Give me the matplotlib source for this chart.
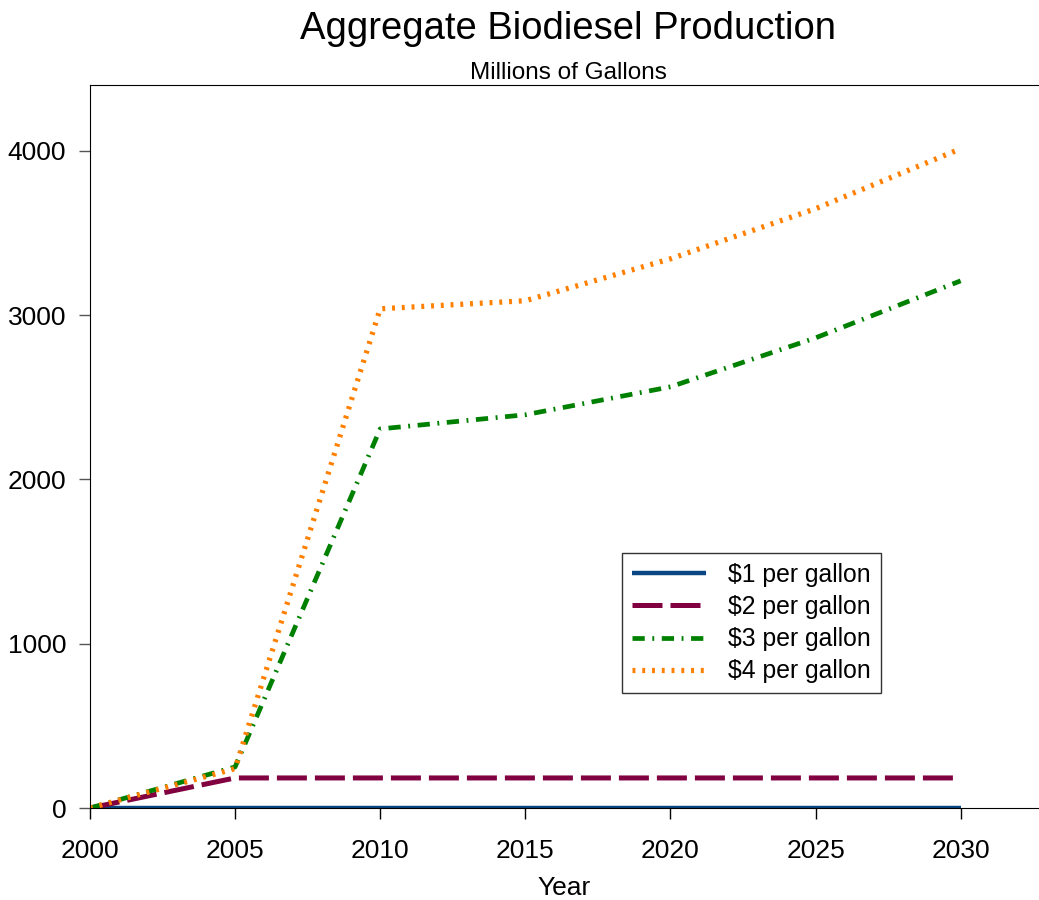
import matplotlib.pyplot as plt

plt.rcParams['font.family'] = ['Liberation Sans', 'DejaVu Sans']

### Data (millions of gallons)
years = [2000, 2005, 2010, 2015, 2020, 2025, 2030]
price_1 = [0, 0, 0, 0, 0, 0, 0]
price_2 = [0, 183, 183, 183, 183, 183, 183]
price_3 = [0, 250, 2307, 2393, 2563, 2861, 3208]
price_4 = [0, 240, 3038, 3087, 3342, 3647, 4012]
labels = ["$1 per gallon", "$2 per gallon", "$3 per gallon", "$4 per gallon"]

### Plot
fig = plt.figure(figsize=(10.39, 9), dpi=100)
ax = fig.add_axes([0.0866, 0.1022, 0.9134, 0.8034])

ax.plot(years, price_1, color="#0a4683", lw=3.2, solid_capstyle="butt", label=labels[0])
ax.plot(years, price_2, color="#800040", lw=3.6, dashes=(6.0, 1.6), label=labels[1])
ax.plot(years, price_3, color="#008000", lw=3.4, dashes=(2.6, 1.6, 0.4, 1.6), label=labels[2])
ax.plot(years, price_4, color="#ff8000", lw=3.8, dashes=(0.55, 1.3), label=labels[3])

ax.set_xlim(2000, 2032.7)
ax.set_ylim(0, 4400)
ax.set_xticks(years)
ax.set_yticks([0, 1000, 2000, 3000, 4000])
ax.tick_params(labelsize=19, length=8, width=1, direction="out")
ax.tick_params(axis="y", pad=9, color="#555555")
ax.tick_params(axis="x", pad=14)
ax.spines["right"].set_visible(False)
ax.set_xlabel("Year", fontsize=19, labelpad=10)

fig.text(0.547, 0.968, "Aggregate Biodiesel Production", fontsize=27.5, ha="center", va="center")
fig.text(0.547, 0.919, "Millions of Gallons", fontsize=17.5, ha="center", va="center")

leg = ax.legend(loc="upper left", bbox_to_anchor=(0.5606, 0.3527), borderaxespad=0,
                fontsize=17.8, frameon=True, fancybox=False, edgecolor="black",
                handlelength=3.0, handletextpad=0.9, labelspacing=0.33, borderpad=0.4)
leg.get_frame().set_linewidth(1)

plt.savefig("out.png", dpi=100)
